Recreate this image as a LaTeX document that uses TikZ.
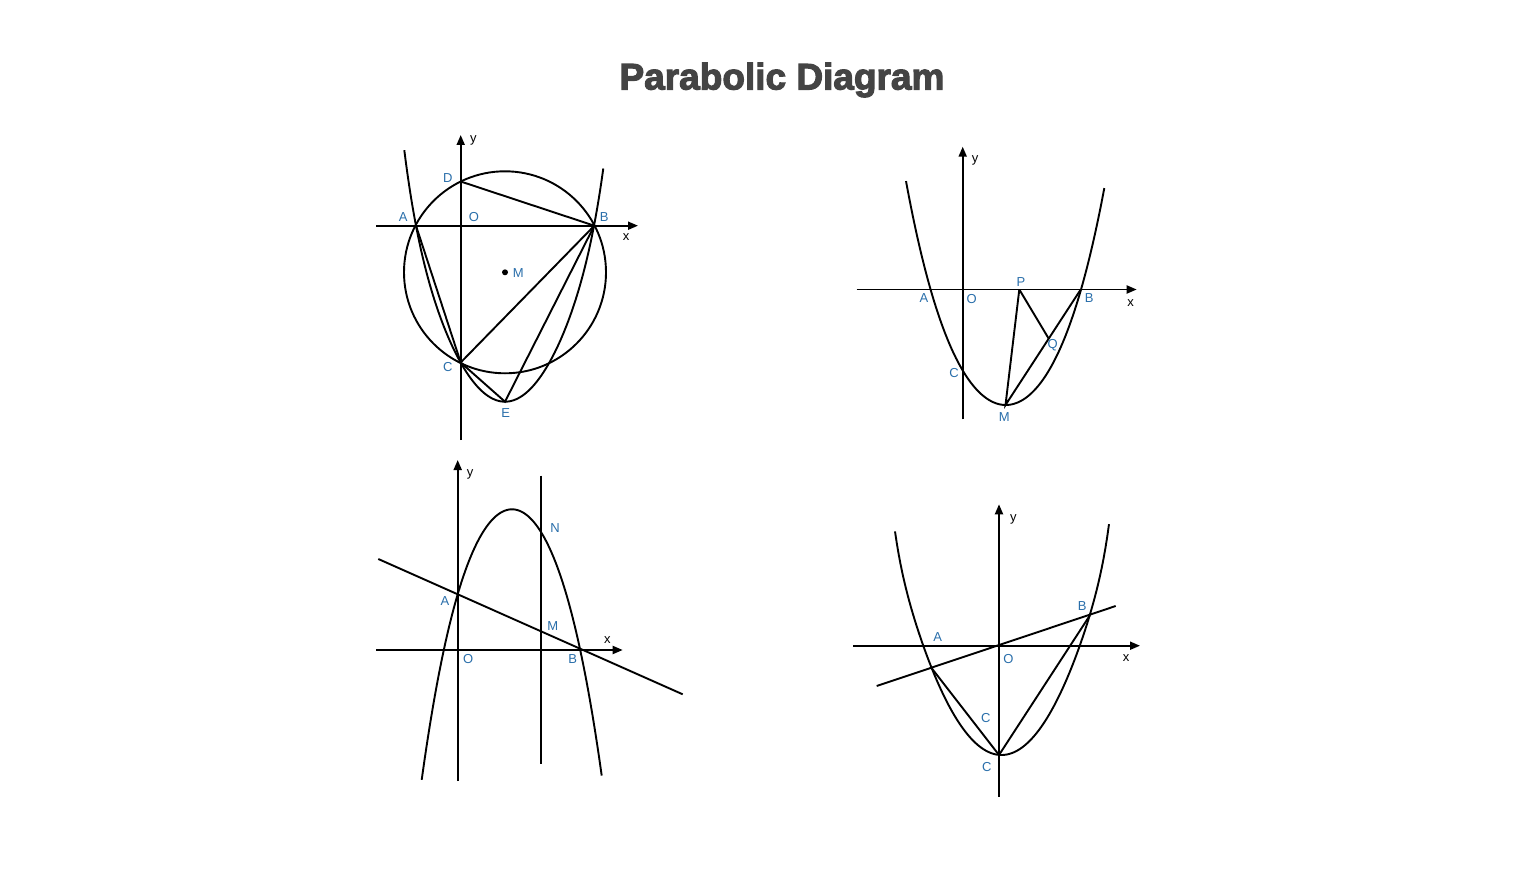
\documentclass[tikz,border=0pt]{standalone}
\usepackage{fontspec}
\setmainfont{Liberation Sans}
\newfontfamily\titlefont{Liberation Sans}[BoldFeatures={FakeBold=3}]
\usetikzlibrary{arrows.meta}
\definecolor{lblblue}{RGB}{41,110,170}
\definecolor{titlegray}{RGB}{68,68,68}
\tikzset{curve/.style={line width=1.9pt, draw=black},
axis/.style={line width=1.9pt, -{Triangle[length=10pt,width=8pt]}},
lbl/.style={text=lblblue, font=\fontsize{13}{15}\selectfont, inner sep=0pt},
axlbl/.style={text=black, font=\fontsize{13}{15}\selectfont, inner sep=0pt},
dot/.style={circle, fill=black, inner sep=0pt, minimum size=6pt}}

\begin{document}
\begin{tikzpicture}[x=1pt, y=-1pt, declare function={sq(\t)=\t*\t;}]
\useasboundingbox (0,0) rectangle (1516,872);

\node[anchor=base, text=titlegray, font=\titlefont\bfseries\fontsize{37}{40}\selectfont] (title) at (782,89.5) {Parabolic Diagram};

% top left
\coordinate (O1) at (460.7,225.7);
\coordinate (A1) at (416,225.7);
\coordinate (B1) at (594.3,225.7);
\coordinate (C1) at (460.7,362.5);
\coordinate (D1) at (460.7,181.5);
\coordinate (E1) at (505,401.7);
\coordinate (Y1s) at (460.7,440);
\coordinate (Y1e) at (460.7,135);
\coordinate (X1s) at (376,225.7);
\coordinate (X1e) at (638,225.7);
\node[dot] (M1) at (505,272.3) {};

\draw[axis] (X1s) -- (X1e);
\draw[axis] (Y1s) -- (Y1e);
\draw[curve] (M1.center) circle[radius=101pt];
\draw[curve] plot[domain=404.3:603.3, samples=120] (\x, {401.7-198.6*sq((\x-505)/100)-47.4*sq(sq(sq((\x-505)/100)))});
\draw[curve] (D1) -- (B1);
\draw[curve] (A1) -- (C1) -- (B1);
\draw[curve] (C1) -- (E1) -- (B1);

\node[axlbl] (ly1) at (473.3,140.7) {y};
\node[axlbl] (lx1) at (626,236.7) {x};
\node[lbl] (lD1) at (447.7,177.7) {D};
\node[lbl] (lA1) at (403.3,216.7) {A};
\node[lbl] (lO1) at (474,216.7) {O};
\node[lbl] (lB1) at (604.3,216.7) {B};
\node[lbl] (lM1) at (518.3,272.7) {M};
\node[lbl] (lC1) at (447.7,367.3) {C};
\node[lbl] (lE1) at (505.7,412.7) {E};

% top right
\coordinate (O2) at (962.7,289.5);
\coordinate (A2) at (931,289.5);
\coordinate (B2) at (1080.7,289.5);
\coordinate (C2) at (962.7,371);
\coordinate (M2) at (1005.5,405);
\coordinate (P2) at (1019.3,289.5);
\coordinate (Q2) at (1048.7,338.6);
\coordinate (Y2s) at (962.7,419.3);
\coordinate (Y2e) at (962.7,146.7);
\coordinate (X2s) at (856.7,289.5);
\coordinate (X2e) at (1136.7,289.5);

\draw[axis] (X2s) -- (X2e);
\draw[axis] (Y2s) -- (Y2e);
\draw[curve] plot[domain=906:1104.3, samples=120] (\x, {405-177*sq((\x-1005.8)/100)-48*sq(sq((\x-1005.8)/100))});
\draw[curve] (P2) -- (M2) -- (B2);
\draw[curve] (P2) -- (Q2);

\node[axlbl] (ly2) at (975,160) {y};
\node[axlbl] (lx2) at (1130.7,303.3) {x};
\node[lbl] (lA2) at (924,298.3) {A};
\node[lbl] (lO2) at (971.7,299) {O};
\node[lbl] (lP2) at (1021,281.7) {P};
\node[lbl] (lB2) at (1089.3,297.7) {B};
\node[lbl] (lQ2) at (1052.7,345) {Q};
\node[lbl] (lC2) at (954,373.3) {C};
\node[lbl] (lM2) at (1004.3,416.7) {M};

% bottom left
\coordinate (O3) at (457.7,650);
\coordinate (A3) at (457.7,594.3);
\coordinate (B3) at (580.7,650);
\coordinate (M3) at (540.7,631.4);
\coordinate (N3) at (540.7,530);
\coordinate (V3s) at (540.7,475.7);
\coordinate (V3e) at (540.7,764.3);
\coordinate (L3s) at (378.3,559);
\coordinate (L3e) at (682.7,694.3);
\coordinate (Y3s) at (457.7,781);
\coordinate (Y3e) at (457.7,460);
\coordinate (X3s) at (376,650);
\coordinate (X3e) at (622.7,650);

\draw[axis] (X3s) -- (X3e);
\draw[axis] (Y3s) -- (Y3e);
\draw[curve] plot[domain=421.7:601.7, samples=120] (\x, {509.3+263.4*sq((\x-512)/100)+83.9*sq(sq((\x-512)/100))});
\draw[curve] (V3s) -- (V3e);
\draw[curve] (L3s) -- (L3e);

\node[axlbl] (ly3) at (470,474.3) {y};
\node[axlbl] (lx3) at (607.3,640) {x};
\node[lbl] (lN3) at (555,527.7) {N};
\node[lbl] (lA3) at (445,601) {A};
\node[lbl] (lM3) at (552.7,625.7) {M};
\node[lbl] (lO3) at (468.3,659) {O};
\node[lbl] (lB3) at (572.7,659) {B};

% bottom right
\coordinate (O4) at (999,645.7);
\coordinate (A4) at (931.7,668.2);
\coordinate (B4) at (1090,615.2);
\coordinate (C4) at (999,755);
\coordinate (L4s) at (876.7,686);
\coordinate (L4e) at (1115.7,606);
\coordinate (Y4s) at (999,796.7);
\coordinate (Y4e) at (999,504.3);
\coordinate (X4s) at (853.3,645.7);
\coordinate (X4e) at (1140,645.7);

\draw[axis] (X4s) -- (X4e);
\draw[axis] (Y4s) -- (Y4e);
\draw[curve] plot[domain=895:1109, samples=120] (\x, {755-178.3*sq((\x-1001.5)/100)-7.8*sq(sq(sq(sq((\x-1001.5)/100))))});
\draw[curve] (L4s) -- (L4e);
\draw[curve] (A4) -- (C4) -- (B4);

\node[axlbl] (ly4) at (1013.3,519) {y};
\node[axlbl] (lx4) at (1126,658.3) {x};
\node[lbl] (lB4) at (1082.3,606) {B};
\node[lbl] (lA4) at (937.7,636.7) {A};
\node[lbl] (lO4) at (1008.3,659) {O};
\node[lbl] (lC4a) at (985.7,717.7) {C};
\node[lbl] (lC4b) at (986.7,766.7) {C};

\end{tikzpicture}
\end{document}
